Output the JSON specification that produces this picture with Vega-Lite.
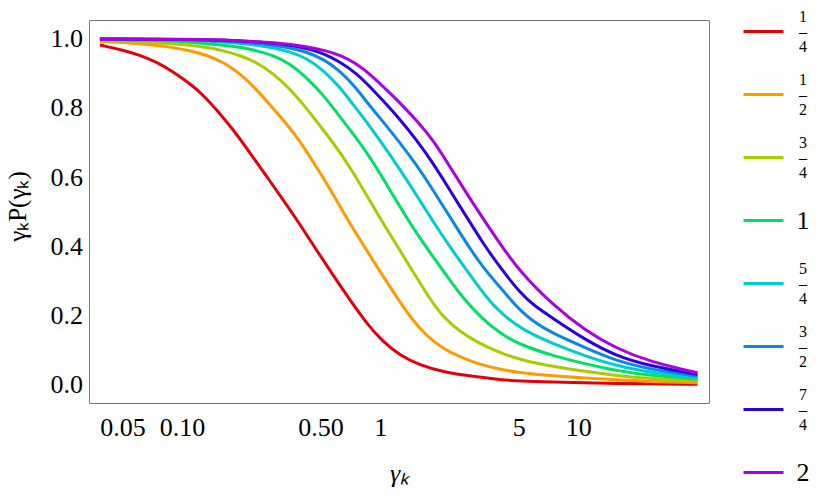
{
  "$schema": "https://vega.github.io/schema/vega-lite/v6.json",
  "width": 620,
  "height": 383,
  "autosize": {"type": "none"},
  "padding": {"left": 89, "top": 20, "right": 121, "bottom": 101},
  "background": "white",
  "config": {"view": {"stroke": null}, "font": "Liberation Serif"},
  "data": {"values": [
    {"a":"1/4","x":0.0385,"y":0.982},{"a":"1/4","x":0.05,"y":0.968},{"a":"1/4","x":0.0611,"y":0.953},{"a":"1/4","x":0.0743,"y":0.933},{"a":"1/4","x":0.09,"y":0.905},{"a":"1/4","x":0.109,"y":0.871},{"a":"1/4","x":0.125,"y":0.843},{"a":"1/4","x":0.152,"y":0.790},{"a":"1/4","x":0.185,"y":0.731},{"a":"1/4","x":0.224,"y":0.664},{"a":"1/4","x":0.272,"y":0.596},{"a":"1/4","x":0.33,"y":0.528},{"a":"1/4","x":0.393,"y":0.464},{"a":"1/4","x":0.477,"y":0.389},{"a":"1/4","x":0.579,"y":0.316},{"a":"1/4","x":0.703,"y":0.245},{"a":"1/4","x":0.854,"y":0.177},{"a":"1/4","x":1.036,"y":0.123},{"a":"1/4","x":1.257,"y":0.085},{"a":"1/4","x":1.585,"y":0.056},{"a":"1/4","x":2.08,"y":0.036},{"a":"1/4","x":3.07,"y":0.022},{"a":"1/4","x":4.02,"y":0.0145},{"a":"1/4","x":5.08,"y":0.010},{"a":"1/4","x":7.48,"y":0.007},{"a":"1/4","x":10.8,"y":0.0048},{"a":"1/4","x":15.6,"y":0.0033},{"a":"1/4","x":23,"y":0.002},{"a":"1/4","x":40,"y":0.001},
    {"a":"1/2","x":0.0385,"y":0.993},{"a":"1/2","x":0.055,"y":0.988},{"a":"1/2","x":0.0743,"y":0.981},{"a":"1/2","x":0.09,"y":0.975},{"a":"1/2","x":0.109,"y":0.966},{"a":"1/2","x":0.133,"y":0.953},{"a":"1/2","x":0.161,"y":0.933},{"a":"1/2","x":0.196,"y":0.900},{"a":"1/2","x":0.238,"y":0.853},{"a":"1/2","x":0.272,"y":0.815},{"a":"1/2","x":0.33,"y":0.760},{"a":"1/2","x":0.393,"y":0.705},{"a":"1/2","x":0.459,"y":0.644},{"a":"1/2","x":0.557,"y":0.567},{"a":"1/2","x":0.65,"y":0.500},{"a":"1/2","x":0.703,"y":0.466},{"a":"1/2","x":0.854,"y":0.389},{"a":"1/2","x":1.036,"y":0.312},{"a":"1/2","x":1.257,"y":0.240},{"a":"1/2","x":1.413,"y":0.196},{"a":"1/2","x":1.715,"y":0.140},{"a":"1/2","x":2.08,"y":0.104},{"a":"1/2","x":2.53,"y":0.080},{"a":"1/2","x":3.07,"y":0.061},{"a":"1/2","x":4.02,"y":0.044},{"a":"1/2","x":5.08,"y":0.034},{"a":"1/2","x":7.48,"y":0.025},{"a":"1/2","x":10.8,"y":0.019},{"a":"1/2","x":15.6,"y":0.0135},{"a":"1/2","x":23,"y":0.009},{"a":"1/2","x":40,"y":0.005},
    {"a":"3/4","x":0.0385,"y":0.996},{"a":"3/4","x":0.07,"y":0.991},{"a":"3/4","x":0.109,"y":0.982},{"a":"3/4","x":0.135,"y":0.975},{"a":"3/4","x":0.161,"y":0.966},{"a":"3/4","x":0.196,"y":0.952},{"a":"3/4","x":0.238,"y":0.932},{"a":"3/4","x":0.288,"y":0.900},{"a":"3/4","x":0.35,"y":0.855},{"a":"3/4","x":0.393,"y":0.822},{"a":"3/4","x":0.477,"y":0.762},{"a":"3/4","x":0.579,"y":0.700},{"a":"3/4","x":0.703,"y":0.630},{"a":"3/4","x":0.854,"y":0.548},{"a":"3/4","x":1.036,"y":0.466},{"a":"3/4","x":1.257,"y":0.389},{"a":"3/4","x":1.413,"y":0.340},{"a":"3/4","x":1.527,"y":0.311},{"a":"3/4","x":1.78,"y":0.248},{"a":"3/4","x":2.08,"y":0.195},{"a":"3/4","x":2.53,"y":0.153},{"a":"3/4","x":3.07,"y":0.123},{"a":"3/4","x":4.02,"y":0.092},{"a":"3/4","x":5.08,"y":0.072},{"a":"3/4","x":7.48,"y":0.052},{"a":"3/4","x":10.8,"y":0.038},{"a":"3/4","x":15.6,"y":0.026},{"a":"3/4","x":23,"y":0.017},{"a":"3/4","x":40,"y":0.011},
    {"a":"1","x":0.0385,"y":0.998},{"a":"1","x":0.07,"y":0.996},{"a":"1","x":0.11,"y":0.991},{"a":"1","x":0.161,"y":0.982},{"a":"1","x":0.2,"y":0.975},{"a":"1","x":0.238,"y":0.966},{"a":"1","x":0.288,"y":0.952},{"a":"1","x":0.35,"y":0.929},{"a":"1","x":0.425,"y":0.888},{"a":"1","x":0.515,"y":0.838},{"a":"1","x":0.579,"y":0.800},{"a":"1","x":0.703,"y":0.738},{"a":"1","x":0.854,"y":0.673},{"a":"1","x":1.036,"y":0.596},{"a":"1","x":1.257,"y":0.514},{"a":"1","x":1.527,"y":0.437},{"a":"1","x":1.852,"y":0.369},{"a":"1","x":2.25,"y":0.302},{"a":"1","x":2.625,"y":0.250},{"a":"1","x":3.2,"y":0.195},{"a":"1","x":4.02,"y":0.148},{"a":"1","x":5.08,"y":0.115},{"a":"1","x":7.48,"y":0.083},{"a":"1","x":10.8,"y":0.060},{"a":"1","x":15.6,"y":0.040},{"a":"1","x":23,"y":0.026},{"a":"1","x":40,"y":0.016},
    {"a":"5/4","x":0.0385,"y":0.9995},{"a":"5/4","x":0.06,"y":0.9987},{"a":"5/4","x":0.1,"y":0.9965},{"a":"5/4","x":0.16,"y":0.9915},{"a":"5/4","x":0.238,"y":0.982},{"a":"5/4","x":0.29,"y":0.974},{"a":"5/4","x":0.35,"y":0.963},{"a":"5/4","x":0.425,"y":0.944},{"a":"5/4","x":0.515,"y":0.910},{"a":"5/4","x":0.626,"y":0.860},{"a":"5/4","x":0.703,"y":0.822},{"a":"5/4","x":0.854,"y":0.760},{"a":"5/4","x":1.036,"y":0.693},{"a":"5/4","x":1.257,"y":0.622},{"a":"5/4","x":1.527,"y":0.548},{"a":"5/4","x":1.852,"y":0.471},{"a":"5/4","x":2.25,"y":0.398},{"a":"5/4","x":2.73,"y":0.331},{"a":"5/4","x":3.45,"y":0.250},{"a":"5/4","x":4.02,"y":0.210},{"a":"5/4","x":5.08,"y":0.162},{"a":"5/4","x":7.48,"y":0.117},{"a":"5/4","x":10.8,"y":0.083},{"a":"5/4","x":15.6,"y":0.054},{"a":"5/4","x":23,"y":0.035},{"a":"5/4","x":40,"y":0.020},
    {"a":"3/2","x":0.0385,"y":0.9995},{"a":"3/2","x":0.07,"y":0.999},{"a":"3/2","x":0.12,"y":0.997},{"a":"3/2","x":0.2,"y":0.991},{"a":"3/2","x":0.288,"y":0.982},{"a":"3/2","x":0.355,"y":0.973},{"a":"3/2","x":0.425,"y":0.962},{"a":"3/2","x":0.515,"y":0.942},{"a":"3/2","x":0.626,"y":0.908},{"a":"3/2","x":0.76,"y":0.857},{"a":"3/2","x":0.86,"y":0.815},{"a":"3/2","x":1.036,"y":0.760},{"a":"3/2","x":1.257,"y":0.700},{"a":"3/2","x":1.527,"y":0.635},{"a":"3/2","x":1.852,"y":0.562},{"a":"3/2","x":2.25,"y":0.485},{"a":"3/2","x":2.73,"y":0.408},{"a":"3/2","x":3.31,"y":0.338},{"a":"3/2","x":4.02,"y":0.282},{"a":"3/2","x":4.52,"y":0.248},{"a":"3/2","x":5.08,"y":0.215},{"a":"3/2","x":6.0,"y":0.180},{"a":"3/2","x":7.3,"y":0.150},{"a":"3/2","x":10.8,"y":0.107},{"a":"3/2","x":15.6,"y":0.068},{"a":"3/2","x":23,"y":0.044},{"a":"3/2","x":40,"y":0.024},
    {"a":"7/4","x":0.0385,"y":0.9995},{"a":"7/4","x":0.08,"y":0.999},{"a":"7/4","x":0.15,"y":0.997},{"a":"7/4","x":0.25,"y":0.991},{"a":"7/4","x":0.35,"y":0.982},{"a":"7/4","x":0.43,"y":0.972},{"a":"7/4","x":0.515,"y":0.958},{"a":"7/4","x":0.626,"y":0.934},{"a":"7/4","x":0.76,"y":0.900},{"a":"7/4","x":0.887,"y":0.862},{"a":"7/4","x":1.0,"y":0.830},{"a":"7/4","x":1.257,"y":0.768},{"a":"7/4","x":1.527,"y":0.707},{"a":"7/4","x":1.852,"y":0.640},{"a":"7/4","x":2.25,"y":0.562},{"a":"7/4","x":2.73,"y":0.485},{"a":"7/4","x":3.31,"y":0.408},{"a":"7/4","x":4.02,"y":0.340},{"a":"7/4","x":5.08,"y":0.265},{"a":"7/4","x":6.0,"y":0.228},{"a":"7/4","x":7.48,"y":0.191},{"a":"7/4","x":10.8,"y":0.130},{"a":"7/4","x":15.6,"y":0.082},{"a":"7/4","x":23,"y":0.054},{"a":"7/4","x":40,"y":0.029},
    {"a":"2","x":0.0385,"y":0.9995},{"a":"2","x":0.1,"y":0.999},{"a":"2","x":0.2,"y":0.995},{"a":"2","x":0.3,"y":0.989},{"a":"2","x":0.425,"y":0.978},{"a":"2","x":0.53,"y":0.966},{"a":"2","x":0.626,"y":0.953},{"a":"2","x":0.76,"y":0.929},{"a":"2","x":0.922,"y":0.890},{"a":"2","x":1.077,"y":0.852},{"a":"2","x":1.186,"y":0.830},{"a":"2","x":1.527,"y":0.765},{"a":"2","x":1.852,"y":0.707},{"a":"2","x":2.25,"y":0.630},{"a":"2","x":2.73,"y":0.553},{"a":"2","x":3.31,"y":0.480},{"a":"2","x":4.02,"y":0.408},{"a":"2","x":5.08,"y":0.326},{"a":"2","x":7.48,"y":0.229},{"a":"2","x":10.8,"y":0.157},{"a":"2","x":15.6,"y":0.104},{"a":"2","x":23,"y":0.066},{"a":"2","x":40,"y":0.034}
  ]},
  "layer": [
    {
      "mark": {"type": "line", "strokeWidth": 3, "interpolate": "basis", "clip": true},
      "encoding": {
        "x": {
          "field": "x", "type": "quantitative",
          "scale": {"type": "log", "domain": [0.03391, 45.7], "nice": false},
          "axis": {
            "orient": "bottom",
            "values": [0.04,0.05,0.06,0.07,0.08,0.09,0.1,0.2,0.3,0.4,0.5,0.6,0.7,0.8,0.9,1,2,3,4,5,6,7,8,9,10,20,30,40],
            "labelExpr": "datum.value==0.05?'0.05':datum.value==0.1?'0.10':datum.value==0.5?'0.50':datum.value==1?'1':datum.value==5?'5':datum.value==10?'10':''",
            "tickSize": 0, "ticks": true, "tickColor": "#888888", "tickWidth": 1,
            "domain": true, "domainColor": "#777777", "domainWidth": 1, "grid": false,
            "labelFont": "Liberation Serif", "labelFontSize": 26, "labelColor": "black",
            "labelPadding": 11, "labelBaseline": "top", "labelOverlap": false, "labelFlush": false, "labelBound": false,
            "title": "γₖ", "titleFont": "Liberation Serif", "titleFontSize": 26, "titleFontStyle": "italic",
            "titleFontWeight": "normal", "titleColor": "black", "titleBaseline": "alphabetic",
            "titleAlign": "center", "titleX": 310, "titleY": 78,
            "encode": {"ticks": {"update": {"y2": {"signal": "indexof([0.05,0.1,0.5,1,5,10], datum.value) >= 0 ? -7 : -4"}}}}
          }
        },
        "y": {
          "field": "y", "type": "quantitative",
          "scale": {"domain": [-0.0533, 1.0544], "nice": false, "zero": false},
          "axis": {
            "orient": "left",
            "values": [-0.05,0,0.05,0.1,0.15,0.2,0.25,0.3,0.35,0.4,0.45,0.5,0.55,0.6,0.65,0.7,0.75,0.8,0.85,0.9,0.95,1,1.05],
            "labelExpr": "(datum.value==0||datum.value==0.2||datum.value==0.4||datum.value==0.6||datum.value==0.8||datum.value==1) ? format(datum.value, '.1f') : ''",
            "tickSize": 0, "ticks": true, "tickColor": "#888888", "tickWidth": 1,
            "domain": true, "domainColor": "#777777", "domainWidth": 1, "grid": false,
            "labelFont": "Liberation Serif", "labelFontSize": 26, "labelColor": "black",
            "labelPadding": 6.5, "labelBaseline": "middle", "labelAlign": "right", "labelOverlap": false, "labelFlush": false, "labelBound": false,
            "title": "γₖP(γₖ)", "titleFont": "Liberation Serif", "titleFontSize": 25, "titleFontStyle": "normal",
            "titleFontWeight": "normal", "titleColor": "black", "titleBaseline": "alphabetic", "titleAngle": -90,
            "titleAlign": "center", "titleX": -64, "titleY": 186,
            "encode": {"ticks": {"update": {"x2": {"signal": "(datum.value==0||datum.value==0.2||datum.value==0.4||datum.value==0.6||datum.value==0.8||datum.value==1) ? 7 : 4"}}}}
          }
        },
        "color": {
          "field": "a", "type": "nominal",
          "scale": {
            "domain": ["1/4","1/2","3/4","1","5/4","3/2","7/4","2"],
            "range": ["#E3000B","#FF9A00","#A8CC00","#00E064","#00CDD0","#0A88E6","#2A00DC","#AE00DE"]
          },
          "legend": {
            "orient": "none", "legendX": 653, "legendY": -10, "title": null,
            "symbolType": "stroke", "symbolSize": 1600, "symbolStrokeWidth": 3,
            "labelFont": "Liberation Serif", "labelFontSize": 16, "labelColor": "black",
            "labelOffset": 18, "labelAlign": "center", "labelBaseline": "middle",
            "rowPadding": 16, "padding": 0, "gridAlign": "all",
            "labelExpr": "indexof(datum.label, '/') > 0 ? [split(datum.label, '/')[0], '–', split(datum.label, '/')[1]] : datum.label",
            "encode": {"labels": {"update": {
              "fontSize": {"signal": "datum.value == '1' || datum.value == '2' ? 26 : 16"},
              "lineHeight": {"value": 15},
              "dy": {"signal": "datum.value == '1' || datum.value == '2' ? 0 : -15"}
            }}}
          }
        }
      }
    },
    {
      "mark": {"type": "point", "opacity": 0},
      "encoding": {
        "x": {
          "field": "x", "type": "quantitative",
          "axis": {
            "orient": "top",
            "values": [0.04,0.05,0.06,0.07,0.08,0.09,0.1,0.2,0.3,0.4,0.5,0.6,0.7,0.8,0.9,1,2,3,4,5,6,7,8,9,10,20,30,40],
            "labels": false, "title": null,
            "tickSize": 0, "ticks": true, "tickColor": "#888888", "tickWidth": 1,
            "domain": true, "domainColor": "#777777", "domainWidth": 1, "grid": false,
            "encode": {"ticks": {"update": {"y2": {"signal": "indexof([0.05,0.1,0.5,1,5,10], datum.value) >= 0 ? 7 : 4"}}}}
          }
        },
        "y": {
          "field": "y", "type": "quantitative",
          "axis": {
            "orient": "right",
            "values": [-0.05,0,0.05,0.1,0.15,0.2,0.25,0.3,0.35,0.4,0.45,0.5,0.55,0.6,0.65,0.7,0.75,0.8,0.85,0.9,0.95,1,1.05],
            "labels": false, "title": null,
            "tickSize": 0, "ticks": true, "tickColor": "#888888", "tickWidth": 1,
            "domain": true, "domainColor": "#777777", "domainWidth": 1, "grid": false,
            "encode": {"ticks": {"update": {"x2": {"signal": "(datum.value==0||datum.value==0.2||datum.value==0.4||datum.value==0.6||datum.value==0.8||datum.value==1) ? -7 : -4"}}}}
          }
        }
      }
    }
  ],
  "resolve": {"axis": {"x": "independent", "y": "independent"}}
}
